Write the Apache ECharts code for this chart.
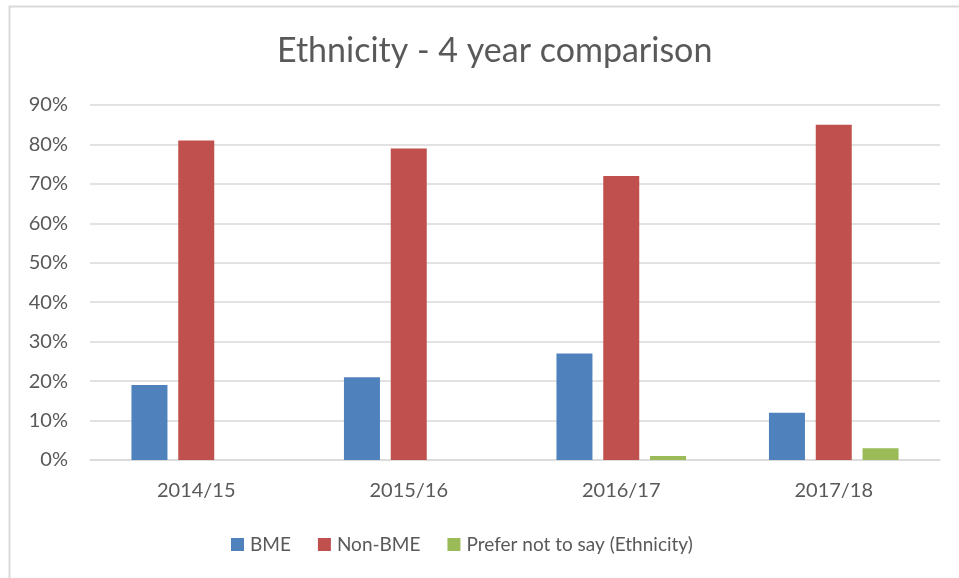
<!DOCTYPE html>
<html>
<head>
<meta charset="utf-8">
<script src="https://cdn.jsdelivr.net/npm/echarts@6/dist/echarts.min.js"></script>
<style>
  html, body { margin: 0; padding: 0; background: #fff; }
  #chart { width: 959px; height: 578px; }
</style>
</head>
<body>
<div id="chart"></div>
<script>
const categories = ['2014/15', '2015/16', '2016/17', '2017/18'];
const bme = [19, 21, 27, 12];
const nonBme = [81, 79, 72, 85];
const preferNot = [0, 0, 1, 3];
const seriesNames = ['BME', 'Non-BME', 'Prefer not to say (Ethnicity)'];
const colors = ['#4f81bd', '#c0504d', '#9bbb59'];

const FONT = 'Lato, "Open Sans", sans-serif';
const chart = echarts.init(document.getElementById('chart'), null, { renderer: 'canvas' });

chart.setOption({
  backgroundColor: '#ffffff',
  animation: false,
  color: colors,
  graphic: [{
    type: 'rect',
    shape: { x: 9.5, y: 6.5, width: 1000, height: 1000 },
    style: { fill: 'none', stroke: '#d9d9d9', lineWidth: 2 },
    silent: true
  }],
  title: {
    text: 'Ethnicity - 4 year comparison',
    left: 272,
    top: 29,
    textStyle: { fontFamily: FONT, fontSize: 34, fontWeight: 'normal', color: '#595959' }
  },
  legend: {
    bottom: 19,
    left: 226,
    itemWidth: 13,
    itemHeight: 13,
    itemGap: 27,
    icon: 'rect',
    textStyle: { fontFamily: FONT, fontSize: 19, color: '#595959', padding: [0, 0, 0, 1] },
    data: seriesNames
  },
  grid: { left: 90, right: 19, top: 105, bottom: 118, containLabel: false },
  xAxis: {
    type: 'category',
    data: categories,
    axisLine: { lineStyle: { color: '#d9d9d9', width: 1.5 } },
    axisTick: { show: false },
    axisLabel: { fontFamily: FONT, fontSize: 20, color: '#595959', margin: 21 }
  },
  yAxis: {
    type: 'value',
    min: 0,
    max: 90,
    interval: 10,
    axisLine: { show: false },
    axisTick: { show: false },
    splitLine: { lineStyle: { color: '#d9d9d9', width: 1.5 } },
    axisLabel: { fontFamily: FONT, fontSize: 20, color: '#595959', margin: 22, formatter: v => v + '%' }
  },
  series: [
    { name: seriesNames[0], type: 'bar', data: bme, barWidth: 36, barGap: '30%' },
    { name: seriesNames[1], type: 'bar', data: nonBme, barWidth: 36, barGap: '30%' },
    { name: seriesNames[2], type: 'bar', data: preferNot, barWidth: 36, barGap: '30%' }
  ]
});
</script>
</body>
</html>
